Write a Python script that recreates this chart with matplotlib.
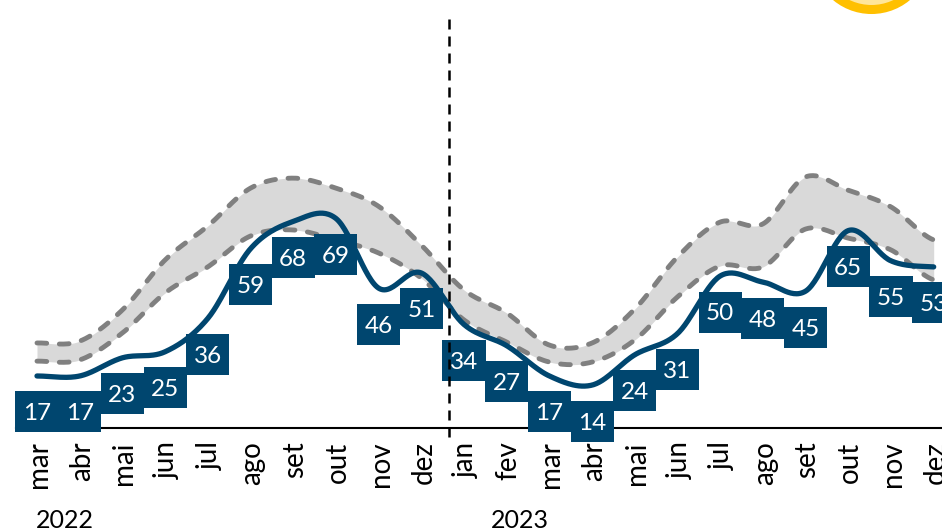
import numpy as np
import matplotlib
matplotlib.use("Agg")
import matplotlib.pyplot as plt
from matplotlib.patches import Circle, Rectangle
from matplotlib.transforms import ScaledTranslation

plt.rcParams['font.family'] = ['Lato', 'DejaVu Sans']

months = ["mar", "abr", "mai", "jun", "jul", "ago", "set", "out", "nov", "dez", "jan",
          "fev", "mar", "abr", "mai", "jun", "jul", "ago", "set", "out", "nov", "dez"]
valores = [17, 17, 23, 25, 36, 59, 68, 69, 46, 51, 34, 27, 17, 14, 24, 31, 50, 48, 45, 65, 55, 53]
limite_sup = [27.9, 28.5, 38.8, 55.3, 66.5, 79.0, 82.3, 79.0, 73.0, 60.2, 45.4,
              37.8, 27.2, 27.9, 39.1, 56.3, 67.8, 67.2, 82.7, 78.3, 72.8, 61.9]
limite_inf = [21.9, 22.3, 31.2, 44.4, 53.0, 63.2, 65.2, 61.9, 57.6, 49.3, 35.5,
              28.2, 21.6, 21.6, 28.9, 43.1, 53.3, 53.0, 65.5, 62.5, 58.6, 48.7]

azul = "#00466F"


# same kind of smoothing as the spreadsheet line (catmull-rom)
def suaviza(y, n=30):
    y = np.array(y, dtype=float)
    xs = []
    ys = []
    for i in range(len(y) - 1):
        m0 = (y[i + 1] - y[max(i - 1, 0)]) / 2
        m1 = (y[min(i + 2, len(y) - 1)] - y[i]) / 2
        t = np.linspace(0, 1, n)
        h = (2*t**3 - 3*t**2 + 1)*y[i] + (t**3 - 2*t**2 + t)*m0 + (-2*t**3 + 3*t**2)*y[i + 1] + (t**3 - t**2)*m1
        xs.append(i + t)
        ys.append(h)
    return np.concatenate(xs), np.concatenate(ys)


fig = plt.figure(figsize=(9.42, 5.32), dpi=100)
ax = fig.add_axes([16 / 942, (532 - 427.5) / 532, (942 - 16) / 942, 427.5 / 532])
ax.set_xlim((16 - 37) / 42.7, (942 - 37) / 42.7)
ax.set_ylim(0, 427.5 / 3.03)

xs, sup = suaviza(limite_sup)
xs, inf = suaviza(limite_inf)
xs, lin = suaviza(valores)

ax.fill_between(xs, inf, sup, color="#D9D9D9", lw=0, zorder=1)
ax.plot(xs, sup, color="#808080", lw=3.5, dashes=(2.0, 2.6), dash_capstyle="round", zorder=2)
ax.plot(xs, inf, color="#808080", lw=3.5, dashes=(2.0, 2.6), dash_capstyle="round", zorder=2)
ax.plot(xs, lin, color=azul, lw=3.8, solid_capstyle="round", zorder=3)

# labels: boxes about 43x41 px, 36 px under the point
for i, v in enumerate(valores):
    meio = v - 36 / 3.03
    ax.add_patch(Rectangle((i - 0.505, meio - 20.5 / 3.03), 1.01, 41 / 3.03, fc=azul, ec="none",
                           clip_on=False, zorder=4))
    ax.text(i, meio, str(v), ha="center", va="center_baseline", color="white", fontsize=17.5,
            zorder=5, clip_on=False)

# year divider
ax.plot([9.65, 9.65], [-3, 136], color="black", lw=1.8, dashes=(4, 2.8), clip_on=False, zorder=6)

ax.set_xticks(range(len(months)))
ax.set_xticklabels(months, rotation=90, fontsize=20)
ax.tick_params(axis="x", length=0, pad=10)
desloca = ScaledTranslation(2 / 100, 0, fig.dpi_scale_trans)
for t in ax.get_xticklabels():
    t.set_transform(t.get_transform() + desloca)
ax.set_yticks([])
for s in ["top", "left", "right"]:
    ax.spines[s].set_visible(False)
ax.spines["bottom"].set_linewidth(1.5)

fig.text(65 / 942, (532 - 520) / 532, "2022", ha="center", va="center", fontsize=18)
fig.text(519.5 / 942, (532 - 520) / 532, "2023", ha="center", va="center", fontsize=18)

# sun at the top, cut by the edge of the picture
sol = Circle((871.5, 532 + 46), 55.5, fc="#FFE699", ec="#FFC000", lw=6.5, transform=None)
fig.add_artist(sol)

fig.savefig("out.png", dpi=100)
